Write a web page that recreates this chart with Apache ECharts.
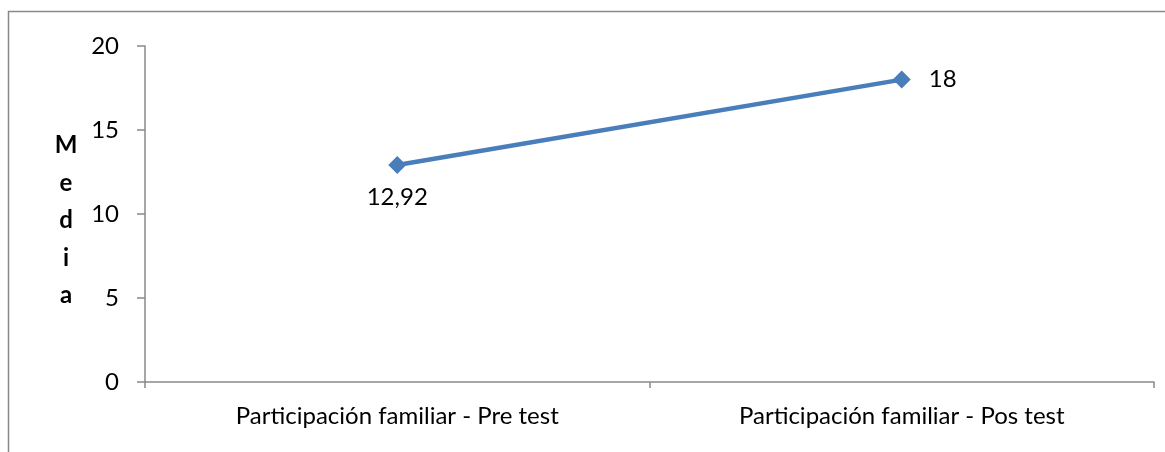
<!DOCTYPE html>
<html>
<head>
<meta charset="utf-8">
<script src="https://cdn.jsdelivr.net/npm/echarts@6/dist/echarts.min.js"></script>
<style>html,body{margin:0;padding:0;background:#fff}#c{width:1165px;height:452px}</style>
</head>
<body>
<div id="c"></div>
<script>
const categories = ['Participación familiar - Pre test', 'Participación familiar - Pos test'];
const values = [12.92, 18];
const valueLabels = ['12,92', '18'];
const yTicks = [0, 5, 10, 15, 20];
const yAxisTitle = 'Media';

const FONT = 'Lato';
const chart = echarts.init(document.getElementById('c'));
chart.setOption({
  animation: false,
  backgroundColor: '#fff',
  grid: { left: 145, right: 11, top: 46, bottom: 70 },
  graphic: [
    { type: 'rect', shape: { x: 8.5, y: 11.5, width: 1200, height: 500 }, style: { fill: 'none', stroke: '#898989', lineWidth: 1.5 }, silent: true },
    { type: 'text', x: 66, y: 127, style: { text: yAxisTitle.split('').join('\n'), font: 'bold 24px ' + FONT, lineHeight: 37.5, fill: '#000', align: 'center' } }
  ],
  xAxis: {
    type: 'category',
    data: categories,
    boundaryGap: true,
    axisLine: { lineStyle: { color: '#898989', width: 1.5 } },
    axisTick: { show: true, length: 6, lineStyle: { color: '#898989', width: 1.5 } },
    axisLabel: { color: '#000', fontFamily: FONT, fontSize: 24, margin: 22 },
    splitLine: { show: false }
  },
  yAxis: {
    type: 'value',
    min: yTicks[0], max: yTicks[yTicks.length - 1], interval: 5,
    axisLine: { show: true, lineStyle: { color: '#898989', width: 1.5 } },
    axisTick: { show: true, length: 8, lineStyle: { color: '#898989', width: 1.5 } },
    axisLabel: { color: '#000', fontFamily: FONT, fontSize: 24, margin: 26 },
    splitLine: { show: false }
  },
  series: [{
    type: 'line',
    data: values.map((v, i) => ({
      value: v,
      label: { show: true, formatter: valueLabels[i], position: i === 0 ? 'bottom' : 'right', distance: i === 0 ? 11 : 18, color: '#000', fontFamily: FONT, fontSize: 24 }
    })),
    symbol: 'diamond',
    symbolSize: 18,
    lineStyle: { color: '#4A7EBB', width: 4.5 },
    itemStyle: { color: '#4A7EBB' }
  }]
});
</script>
</body>
</html>
